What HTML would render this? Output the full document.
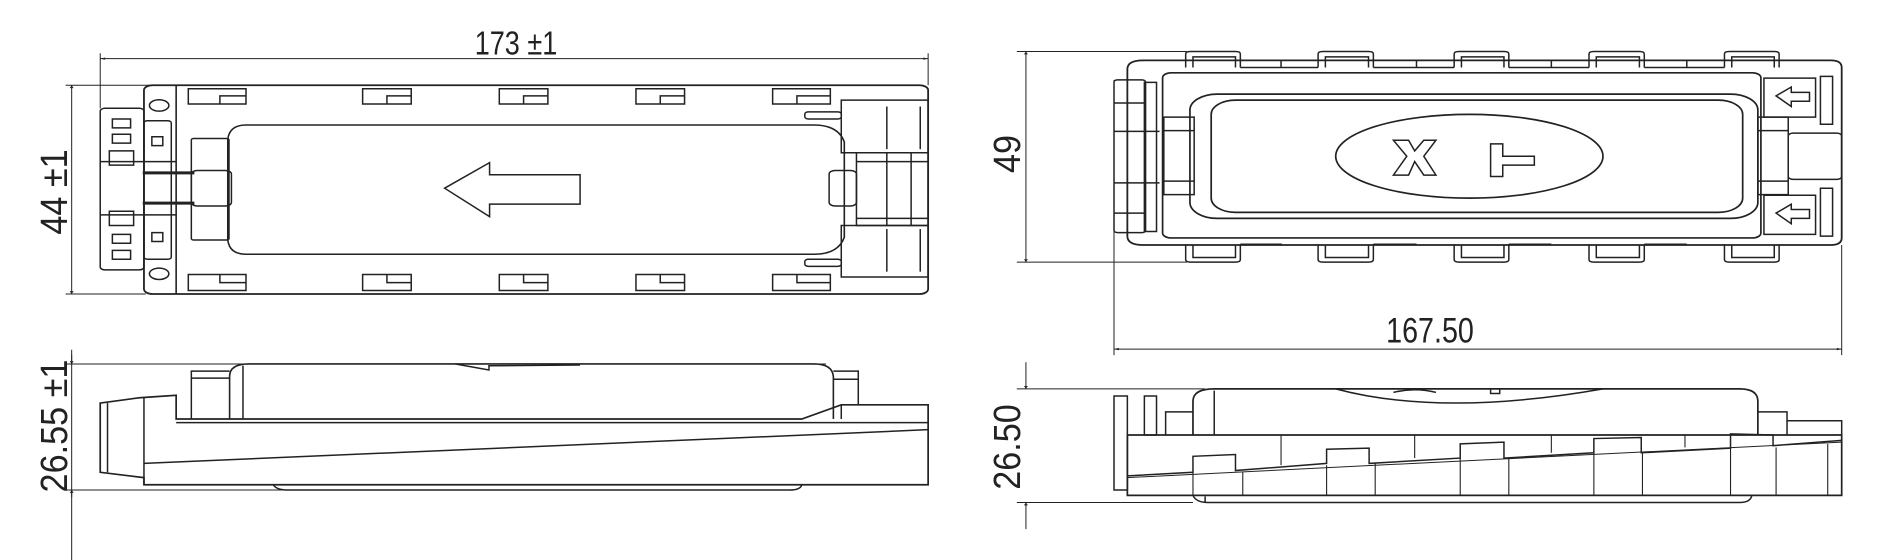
<!DOCTYPE html>
<html><head><meta charset="utf-8"><style>
html,body{margin:0;padding:0;background:#fff;}
#w{position:relative;width:1900px;height:560px;overflow:hidden;background:#fff;}
svg{position:absolute;left:0;top:0;}
svg *{vector-effect:non-scaling-stroke;}
.t{position:absolute;font-family:"Liberation Sans",sans-serif;color:#222;white-space:nowrap;line-height:1;}
</style></head><body><div id="w">
<svg width="1900" height="560" viewBox="0 0 3128 1577" preserveAspectRatio="none" fill="none" stroke="#222" stroke-width="1.5">
<defs>
<marker id="a" viewBox="0 0 10 10" refX="10" refY="5" markerWidth="10" markerHeight="8" markerUnits="userSpaceOnUse" orient="auto-start-reverse"><path d="M0,1 L10,5 L0,9 z" fill="#222" stroke="none"/></marker>
</defs>
<!-- ===== LEFT TOP VIEW ===== -->
<line x1="165" y1="165" x2="1528" y2="165" marker-start="url(#a)" marker-end="url(#a)" stroke-width="1"/>
<line x1="165" y1="150" x2="165" y2="305" stroke-width="1"/>
<line x1="1528" y1="150" x2="1528" y2="240" stroke-width="1"/>
<line x1="118" y1="240" x2="118" y2="828" marker-start="url(#a)" marker-end="url(#a)" stroke-width="1"/>
<line x1="108" y1="240" x2="250" y2="240" stroke-width="1"/>
<line x1="108" y1="828" x2="240" y2="828" stroke-width="1"/>
<rect x="237" y="240" width="1291" height="588" rx="14" stroke-width="1.8"/>
<line x1="290" y1="240" x2="290" y2="828" stroke-width="1.6"/>
<circle cx="262" cy="297" r="16"/><circle cx="262" cy="771" r="16"/>
<rect x="165" y="305" width="72" height="455" rx="8"/>
<rect x="237" y="340" width="45" height="390" rx="6"/>
<rect x="185" y="335" width="30" height="25"/><rect x="185" y="378" width="30" height="25"/>
<rect x="185" y="660" width="30" height="25"/><rect x="185" y="705" width="30" height="25"/>
<rect x="180" y="425" width="40" height="40"/><rect x="180" y="595" width="40" height="40"/>
<line x1="165" y1="455" x2="290" y2="455"/><line x1="165" y1="605" x2="290" y2="605"/>
<line x1="235" y1="487" x2="320" y2="487" stroke-width="3"/><line x1="235" y1="572" x2="320" y2="572" stroke-width="3"/>
<rect x="250" y="385" width="18" height="25"/><rect x="250" y="655" width="18" height="25"/>
<g stroke-width="1.5">
<path d="M310 250 H405 V293 H310 Z M362 270 H405 V293 H362 Z"/>
<path d="M597 250 H677 V293 H597 Z M637 270 H677 V293 H637 Z"/>
<path d="M822 250 H902 V293 H822 Z M862 270 H902 V293 H862 Z"/>
<path d="M1047 250 H1127 V293 H1047 Z M1087 270 H1127 V293 H1087 Z"/>
<path d="M1272 250 H1367 V293 H1272 Z M1312 270 H1367 V293 H1312 Z"/>
<path d="M310 773 H405 V818 H310 Z M362 773 H405 V796 H362 Z"/>
<path d="M597 773 H677 V818 H597 Z M637 773 H677 V796 H637 Z"/>
<path d="M822 773 H902 V818 H822 Z M862 773 H902 V796 H862 Z"/>
<path d="M1047 773 H1127 V818 H1047 Z M1087 773 H1127 V796 H1087 Z"/>
<path d="M1272 773 H1367 V818 H1272 Z M1312 773 H1367 V796 H1312 Z"/>
</g>
<path d="M405 352 H1340 Q1380 352 1390 400 V668 Q1380 716 1340 716 H405 Q378 716 375 676 V392 Q378 352 405 352 Z" stroke-width="1.6"/>
<rect x="315" y="390" width="62" height="286" rx="4"/>
<rect x="315" y="480" width="66" height="100" rx="10"/>
<polygon points="732,530 806,458 806,492 955,492 955,575 806,575 806,610" stroke-width="1.5"/>
<rect x="1385" y="282" width="143" height="148" stroke-width="1.5"/>
<rect x="1385" y="635" width="143" height="145" stroke-width="1.5"/>
<line x1="1460" y1="300" x2="1460" y2="420"/><line x1="1515" y1="300" x2="1515" y2="420"/>
<line x1="1460" y1="645" x2="1460" y2="765"/><line x1="1515" y1="645" x2="1515" y2="765"/>
<rect x="1410" y="430" width="118" height="205"/>
<line x1="1460" y1="430" x2="1460" y2="635"/><line x1="1500" y1="430" x2="1500" y2="635"/>
<line x1="1410" y1="455" x2="1528" y2="455"/><line x1="1410" y1="615" x2="1528" y2="615"/>
<rect x="1365" y="480" width="45" height="100" rx="10"/>
<rect x="1325" y="315" width="60" height="20" rx="6"/><rect x="1325" y="730" width="60" height="20" rx="6"/>

<!-- ===== LEFT SIDE VIEW ===== -->
<line x1="118" y1="985" x2="118" y2="1577" stroke-width="1"/>
<line x1="118" y1="1000" x2="118" y2="1025" marker-end="url(#a)" stroke-width="1"/>
<line x1="118" y1="1400" x2="118" y2="1380" marker-end="url(#a)" stroke-width="1"/>
<line x1="108" y1="1025" x2="1360" y2="1025" stroke-width="1"/>
<line x1="108" y1="1380" x2="470" y2="1380" stroke-width="1"/>
<path d="M378 1180 V1060 Q378 1025 410 1025 H1340 Q1370 1025 1372 1060 V1180" stroke-width="1.6"/>
<line x1="400" y1="1030" x2="400" y2="1180"/>
<path d="M750 1025 L805 1042 V1030 L955 1028"/>
<path d="M315 1180 V1045 H378 M315 1065 H378"/>
<path d="M1372 1045 H1413 V1140 M1372 1068 H1413"/>
<path d="M165 1135 L230 1120 L290 1113 V1180 H1320 L1385 1140 H1528 V1365 H237 V1345 L165 1330 Z" stroke-width="1.7"/>
<line x1="237" y1="1120" x2="237" y2="1365"/>
<line x1="177" y1="1135" x2="177" y2="1330"/>
<line x1="290" y1="1190" x2="1528" y2="1190"/>
<line x1="1385" y1="1140" x2="1385" y2="1180"/>
<line x1="237" y1="1305" x2="1528" y2="1210"/>
<path d="M450 1365 Q455 1380 475 1380 H1300 Q1318 1380 1320 1365"/>

<!-- ===== RIGHT TOP VIEW ===== -->
<g transform="translate(1564,0)">
<line x1="125" y1="145" x2="125" y2="738" marker-start="url(#a)" marker-end="url(#a)" stroke-width="1"/>
<line x1="110" y1="145" x2="390" y2="145" stroke-width="1"/>
<line x1="110" y1="738" x2="390" y2="738" stroke-width="1"/>
<line x1="270" y1="983" x2="1468" y2="983" marker-start="url(#a)" marker-end="url(#a)" stroke-width="1"/>
<line x1="270" y1="225" x2="270" y2="1000" stroke-width="1"/>
<line x1="1468" y1="690" x2="1468" y2="1000" stroke-width="1"/>
<path d="M318 170 H1450 Q1468 170 1468 190 V670 Q1468 690 1450 690 H318 Q292 690 292 665 V195 Q292 170 318 170 Z" stroke-width="1.8"/>
<g stroke-width="1.5">
<path d="M388 190 V152 Q388 145 396 145 H470 Q478 145 478 152 V190 M400 190 V160 H470 V190"/>
<path d="M606 190 V152 Q606 145 614 145 H689 Q697 145 697 152 V190 M618 190 V160 H689 V190"/>
<path d="M830 190 V152 Q830 145 838 145 H912 Q920 145 920 152 V190 M842 190 V160 H912 V190"/>
<path d="M1052 190 V152 Q1052 145 1060 145 H1135 Q1143 145 1143 152 V190 M1064 190 V160 H1135 V190"/>
<path d="M1275 190 V152 Q1275 145 1283 145 H1357 Q1365 145 1365 152 V190 M1287 190 V160 H1357 V190"/>
<path d="M388 688 V731 Q388 738 396 738 H470 Q478 738 478 731 V688 M400 690 V725 H470 V690"/>
<path d="M606 688 V731 Q606 738 614 738 H689 Q697 738 697 731 V688 M618 690 V725 H689 V690"/>
<path d="M830 688 V731 Q830 738 838 738 H912 Q920 738 920 731 V688 M842 690 V725 H912 V690"/>
<path d="M1052 688 V731 Q1052 738 1060 738 H1135 Q1143 738 1143 731 V688 M1064 690 V725 H1135 V690"/>
<path d="M1275 688 V731 Q1275 738 1283 738 H1357 Q1365 738 1365 731 V688 M1287 690 V725 H1357 V690"/>
<path d="M478 190 H545 V170 M606 190 H545 M697 190 H768 V170 M830 190 H768 M920 190 H990 V170 M1052 190 H990 M1143 190 H1213 V170 M1275 190 H1213"/>
<path d="M478 688 H545 V690 M697 688 H768 M920 688 H990 M1143 688 H1213"/>
</g>
<rect x="350" y="205" width="985" height="465" rx="14" stroke-width="1.7"/>
<rect x="395" y="265" width="935" height="350" rx="45" stroke-width="1.7"/>
<rect x="430" y="282" width="875" height="316" rx="40" stroke-width="1.7"/>
<rect x="352" y="330" width="50" height="218"/>
<line x1="352" y1="368" x2="402" y2="368"/><line x1="352" y1="510" x2="402" y2="510"/>
<rect x="1330" y="330" width="50" height="218"/>
<line x1="1330" y1="368" x2="1380" y2="368"/><line x1="1330" y1="510" x2="1380" y2="510"/>
<ellipse cx="855" cy="440" rx="220" ry="118" stroke-width="1.7"/>
<path d="M730 395 H755 L765 425 L780 395 H800 L780 440 L800 493 H780 L765 455 L755 493 H730 L752 440 Z" stroke-width="1.5"/>
<path d="M890 405 H910 V440 H962 V465 H910 V497 H890 Z" stroke-width="1.5"/>
<rect x="270" y="225" width="52" height="430" rx="6"/>
<rect x="320" y="232" width="20" height="420"/>
<line x1="270" y1="370" x2="345" y2="370"/><line x1="270" y1="515" x2="345" y2="515"/>
<line x1="270" y1="290" x2="320" y2="290"/><line x1="270" y1="600" x2="320" y2="600"/>
<rect x="1340" y="220" width="85" height="110"/><rect x="1340" y="550" width="85" height="110"/>
<rect x="1433" y="215" width="20" height="135"/><rect x="1433" y="530" width="20" height="135"/>
<path d="M1360 270 L1385 245 V260 H1415 V285 H1385 V300 Z"/>
<path d="M1360 600 L1385 575 V590 H1415 V615 H1385 V630 Z"/>
<rect x="1380" y="375" width="88" height="130" rx="8"/>
</g>

<!-- ===== RIGHT SIDE VIEW ===== -->
<g transform="translate(1564,0)">
<line x1="125" y1="1020" x2="125" y2="1095" marker-end="url(#a)" stroke-width="1"/>
<line x1="125" y1="1490" x2="125" y2="1415" marker-end="url(#a)" stroke-width="1"/>
<line x1="110" y1="1095" x2="420" y2="1095" stroke-width="1"/>
<line x1="110" y1="1415" x2="400" y2="1415" stroke-width="1"/>
<path d="M400 1225 V1130 Q400 1095 435 1095 H1300 Q1330 1095 1330 1130 V1225" stroke-width="1.7"/>
<line x1="435" y1="1100" x2="435" y2="1225"/>
<path d="M635 1095 Q810 1175 1075 1095"/>
<path d="M730 1105 Q765 1090 800 1105 M890 1095 V1108 H905 V1095"/>
<path d="M355 1225 V1160 H400 M1330 1160 H1378 V1225 M1378 1185 H1468 V1225"/>
<rect x="270" y="1115" width="22" height="265"/><rect x="320" y="1115" width="20" height="110"/>
<path d="M292 1225 H1468 V1395 H292 Z" stroke-width="1.7"/>
<path d="M292 1340 L400 1330 V1285 L470 1280 V1325 L620 1305 V1265 L690 1262 V1305 L840 1290 V1250 L912 1245 V1290 L1060 1275 V1235 L1138 1232 V1275 L1285 1262 V1222 L1355 1225 V1255 L1468 1240" stroke-width="1.5"/>
<path d="M292 1345 L1468 1245" stroke-width="1"/>
<g stroke-width="1.1">
<line x1="400" y1="1330" x2="400" y2="1395"/><line x1="482" y1="1330" x2="482" y2="1395"/>
<line x1="620" y1="1310" x2="620" y2="1395"/><line x1="700" y1="1305" x2="700" y2="1395"/>
<line x1="840" y1="1290" x2="840" y2="1395"/><line x1="920" y1="1290" x2="920" y2="1395"/>
<line x1="1060" y1="1275" x2="1060" y2="1395"/><line x1="1140" y1="1275" x2="1140" y2="1395"/>
<line x1="1285" y1="1262" x2="1285" y2="1395"/><line x1="1360" y1="1260" x2="1360" y2="1395"/>
<line x1="1445" y1="1250" x2="1445" y2="1395"/>
<line x1="545" y1="1225" x2="545" y2="1310"/><line x1="765" y1="1225" x2="765" y2="1290"/>
<line x1="990" y1="1225" x2="990" y2="1275"/><line x1="1210" y1="1225" x2="1210" y2="1260"/>
</g>
<path d="M400 1395 Q405 1415 425 1415 H1300 Q1318 1415 1320 1395"/>
<line x1="420" y1="1398" x2="420" y2="1415"/>
</g>
</svg>
<div class="t" style="left:516px;top:43px;font-size:33px;transform:translate(-50%,-50%) scaleX(0.82);">173 ±1</div>
<div class="t" style="left:55px;top:192px;font-size:38px;transform:translate(-50%,-50%) rotate(-90deg) scaleX(0.9);">44 ±1</div>
<div class="t" style="left:55px;top:426px;font-size:38px;transform:translate(-50%,-50%) rotate(-90deg) scaleX(0.9);">26.55 ±1</div>
<div class="t" style="left:1008px;top:154px;font-size:38px;transform:translate(-50%,-50%) rotate(-90deg) scaleX(0.9);">49</div>
<div class="t" style="left:1430px;top:331px;font-size:35px;transform:translate(-50%,-50%) scaleX(0.82);">167.50</div>
<div class="t" style="left:1008px;top:447px;font-size:38px;transform:translate(-50%,-50%) rotate(-90deg) scaleX(0.9);">26.50</div>
</div></body></html>
